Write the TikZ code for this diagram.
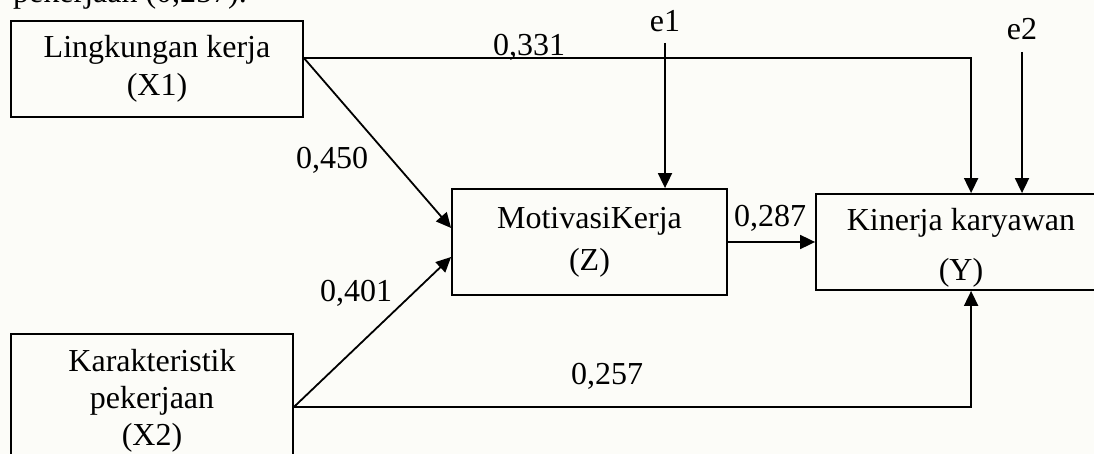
\documentclass[tikz,border=0pt]{standalone}
\usepackage{fontspec}
\setmainfont{Liberation Serif}
\usetikzlibrary{arrows.meta,calc}
\definecolor{paper}{RGB}{252,252,248}
\tikzset{
  box/.style={draw, line width=1.8pt, inner sep=0pt, align=center},
  lbl/.style={inner sep=0pt, font=\fontsize{32}{37}\selectfont},
  arr/.style={line width=1.8pt, -{Triangle[length=15pt,width=14pt]}},
}
\begin{document}
\begin{tikzpicture}[x=1pt,y=-1pt]
  % page area and clipping
  \fill[paper] (0,0) rectangle (1094,454);
  \useasboundingbox (0,0) rectangle (1094,454);
  \clip (0,0) rectangle (1094,454);

  % running text of the page above the figure
  \node[lbl, anchor=base west] (prev) at (13,3) {pekerjaan (0,257).};

  % variable boxes
  \node[box, minimum width=292pt, minimum height=96pt,
        font=\fontsize{32}{38}\selectfont] (X1) at (157,69)
        {Lingkungan kerja\\(X1)};
  \node[box, minimum width=282pt, minimum height=134pt,
        font=\fontsize{32}{37}\selectfont] (X2) at (152,401)
        {Karakteristik\\pekerjaan\\(X2)};
  \node[box, minimum width=275pt, minimum height=106pt,
        font=\fontsize{32}{42}\selectfont] (Z) at (589.5,242)
        {MotivasiKerja\\(Z)};
  \node[box, minimum width=290pt, minimum height=96pt] (Y) at (961,242) {};
  \node[lbl, align=center, font=\fontsize{32}{50}\selectfont]
        (Ytext) at ($(Y.center)+(0,6)$) {Kinerja karyawan\\(Y)};

  % error terms
  \node[lbl, anchor=base] (e1) at (665,32) {e1};
  \node[lbl, anchor=base] (e2) at (1022,40) {e2};

  % connection points
  \coordinate (x1out) at ($(X1.east)+(0,-11)$);
  \coordinate (x2out) at ($(X2.east)+(0,6)$);
  \coordinate (yinA) at ($(Y.north west)+(156,0)$);
  \coordinate (yinC) at ($(Y.south west)+(156,0)$);
  \coordinate (zinA) at ($(Z.west)+(0,-14)$);
  \coordinate (zinB) at ($(Z.west)+(0,15)$);

  % paths
  \draw[arr] (x1out) -| (yinA);
  \draw[arr] (x1out) -- (zinA);
  \draw[arr] (x2out) -- (zinB);
  \draw[arr] (x2out) -| (yinC);
  \draw[arr] (Z.east) -- (Z.east -| Y.west);
  \draw[arr, shorten <=11pt] (e1.base) -- (e1.base |- Z.north);
  \draw[arr, shorten <=12pt] (e2.base) -- (e2.base |- Y.north);

  % path coefficients
  \node[lbl] (c331) at (529,47) {0,331};
  \node[lbl] (c450) at (332,160) {0,450};
  \node[lbl] (c401) at (356,293) {0,401};
  \node[lbl] (c287) at (770,218) {0,287};
  \node[lbl] (c257) at (607,376) {0,257};
\end{tikzpicture}
\end{document}
